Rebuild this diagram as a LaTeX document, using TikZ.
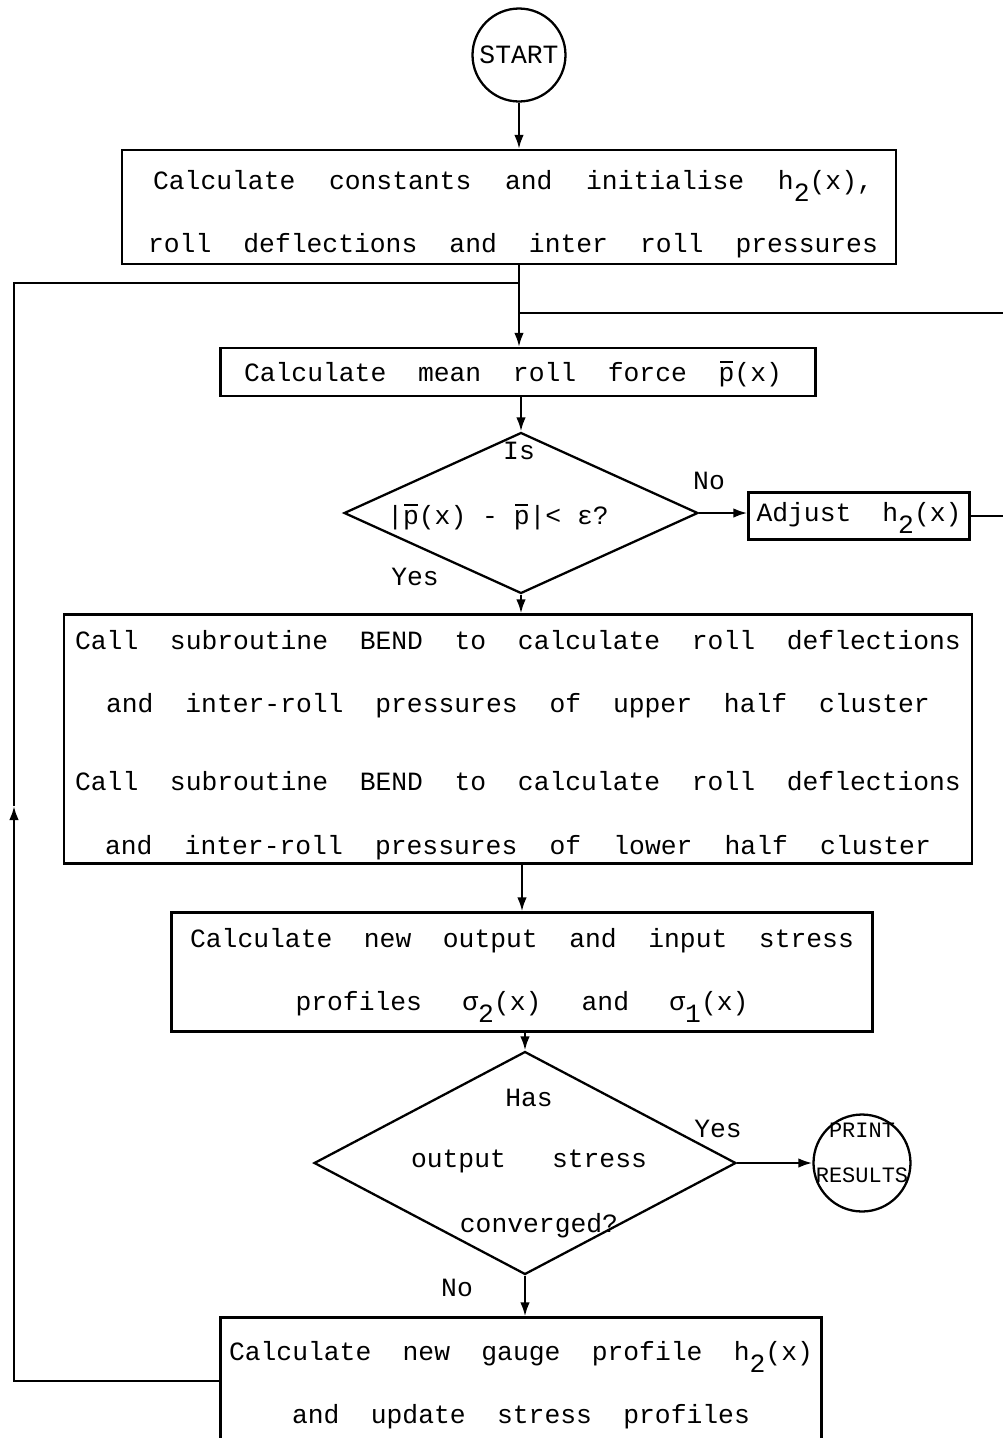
\documentclass[tikz,border=0pt]{standalone}
\usepackage{fontspec}
\setmainfont{Liberation Mono}
\usetikzlibrary{shapes.geometric,arrows.meta,positioning}
\tikzset{
	>={Latex[length=2.8mm,width=1.9mm]},
	every node/.style={font=\fontsize{15}{36}\selectfont},
	flowbox/.style={draw, rectangle, inner sep=0pt, line width=1.3pt},
	boxtext/.style={inner sep=0pt, align=center},
	decide/.style={draw, diamond, inner sep=0pt, line width=1.3pt},
	terminal/.style={draw, circle, inner sep=0pt, minimum size=1.86cm, align=center, line width=1.3pt},
	lbl/.style={inner sep=0pt},
	flow/.style={line width=1.3pt},
}
\newcommand{\lowr}[1]{\raisebox{-0.45em}{#1}}
\newcommand{\pbar}{\leavevmode\rlap{\kern0.05em\raisebox{0.72em}{\rule{0.5em}{0.07em}}}p}

\begin{document}
\begin{tikzpicture}[x=0.02cm, y=-0.02cm]
	\useasboundingbox (0,0) rectangle (1002,1438);

	% boxes and decisions
	\node[terminal] (start) at (519,55) {START};
	\node[flowbox, minimum width=15.48cm, minimum height=2.28cm] (init) at (509,207) {};
	\node[boxtext] (inittxt) at (513,214)
		{\makebox[14.4cm]{Calculate\hfill constants\hfill and\hfill initialise\hfill h\lowr{2}(x),}\\
		 \makebox[14.6cm]{roll\hfill deflections\hfill and\hfill inter\hfill roll\hfill pressures}};
	\node[flowbox, minimum width=11.9cm, minimum height=0.96cm] (mean) at (518,372) {};
	\node[boxtext] (meantxt) at (513,374)
		{\makebox[10.76cm]{Calculate\hfill mean\hfill roll\hfill force\hfill \pbar(x)}};
	\node[decide, minimum width=7.08cm, minimum height=3.22cm] (test) at (521,513) {};
	\node[lbl] (is) at (519,451) {Is};
	\node[lbl] (cond) at (498,517) {|\pbar(x) - \pbar|< ε?};
	\node[flowbox, minimum width=4.42cm, minimum height=0.94cm] (adjust) at (859,516) {};
	\node[boxtext] (adjusttxt) at (859,518) {\makebox[4.1cm]{Adjust\hfill h\lowr{2}(x)}};
	\node[flowbox, minimum width=18.16cm, minimum height=4.98cm] (bend) at (518,739) {};
	\node[boxtext] (bendtxt) at (518,745)
		{\makebox[17.72cm]{Call\hfill subroutine\hfill BEND\hfill to\hfill calculate\hfill roll\hfill deflections}\\
		 \makebox[16.48cm]{and\hfill inter-roll\hfill pressures\hfill of\hfill upper\hfill half\hfill cluster}\\[0.3cm]
		 \makebox[17.72cm]{Call\hfill subroutine\hfill BEND\hfill to\hfill calculate\hfill roll\hfill deflections}\\
		 \makebox[16.52cm]{and\hfill inter-roll\hfill pressures\hfill of\hfill lower\hfill half\hfill cluster}};
	\node[flowbox, minimum width=14.02cm, minimum height=2.38cm] (stress) at (522,972) {};
	\node[boxtext] (stresstxt) at (522,975)
		{\makebox[13.28cm]{Calculate\hfill new\hfill output\hfill and\hfill input\hfill stress}\\
		 \makebox[9.06cm]{profiles\hfill σ\lowr{2}(x)\hfill and\hfill σ\lowr{1}(x)}};
	\node[decide, minimum width=8.44cm, minimum height=4.46cm] (conv) at (525,1163) {};
	\node[lbl] (has) at (529,1098) {Has};
	\node[lbl] (outst) at (529,1161) {\makebox[4.72cm]{output\hfill stress}};
	\node[lbl] (cvg) at (539,1226) {converged?};
	\node[terminal, minimum size=1.94cm] (print) at (862,1163) {};
	\node[boxtext, font=\fontsize{12.5}{26}\selectfont] (printtxt) at (862,1153) {PRINT\\RESULTS};
	\node[flowbox, minimum width=12.02cm, minimum height=2.54cm] (gauge) at (521,1381) {};
	\node[boxtext] (gaugetxt) at (521,1385)
		{\makebox[11.68cm]{Calculate\hfill new\hfill gauge\hfill profile\hfill h\lowr{2}(x)}\\
		 \makebox[9.16cm]{and\hfill update\hfill stress\hfill profiles}};

	% branch labels
	\node[lbl] (no1) at (709,481) {No};
	\node[lbl] (yes1) at (415,577) {Yes};
	\node[lbl] (yes2) at (718,1129) {Yes};
	\node[lbl] (no2) at (457,1288) {No};

	% junctions and loop corners
	\coordinate (j1) at (519,283);
	\coordinate (j2) at (519,313);
	\coordinate (lb) at (14,1381);
	\coordinate (lm) at (14,806);
	\coordinate (lt) at (14,283);
	\coordinate (rb) at (1012,516);
	\coordinate (rt) at (1012,313);

	% connectors
	\draw[flow, ->] (start) -- (start.south |- init.north);
	\draw[flow] (init.south -| j1) -- (j1) -- (j2);
	\draw[flow, ->] (j2) -- (j2 |- mean.north);
	\draw[flow, ->] (mean.south -| test.north) -- (test.north);
	\draw[flow, ->] (test.east) -- (test.east -| adjust.west);
	\draw[flow] (adjust.east) -- (rb) -- (rt) -- (j2);
	\draw[flow, ->] (test.south) -- (test.south |- bend.north);
	\draw[flow, ->] (bend.south -| stress.north) -- (stress.north);
	\draw[flow, ->] (stress.south -| conv.north) -- (conv.north);
	\draw[flow, ->] (conv.east) -- (print.west);
	\draw[flow, ->] (conv.south) -- (conv.south |- gauge.north);
	\draw[flow, ->] (gauge.west) -- (lb) -- (lm);
	\draw[flow] (lm) -- (lt) -- (j1);
\end{tikzpicture}
\end{document}
